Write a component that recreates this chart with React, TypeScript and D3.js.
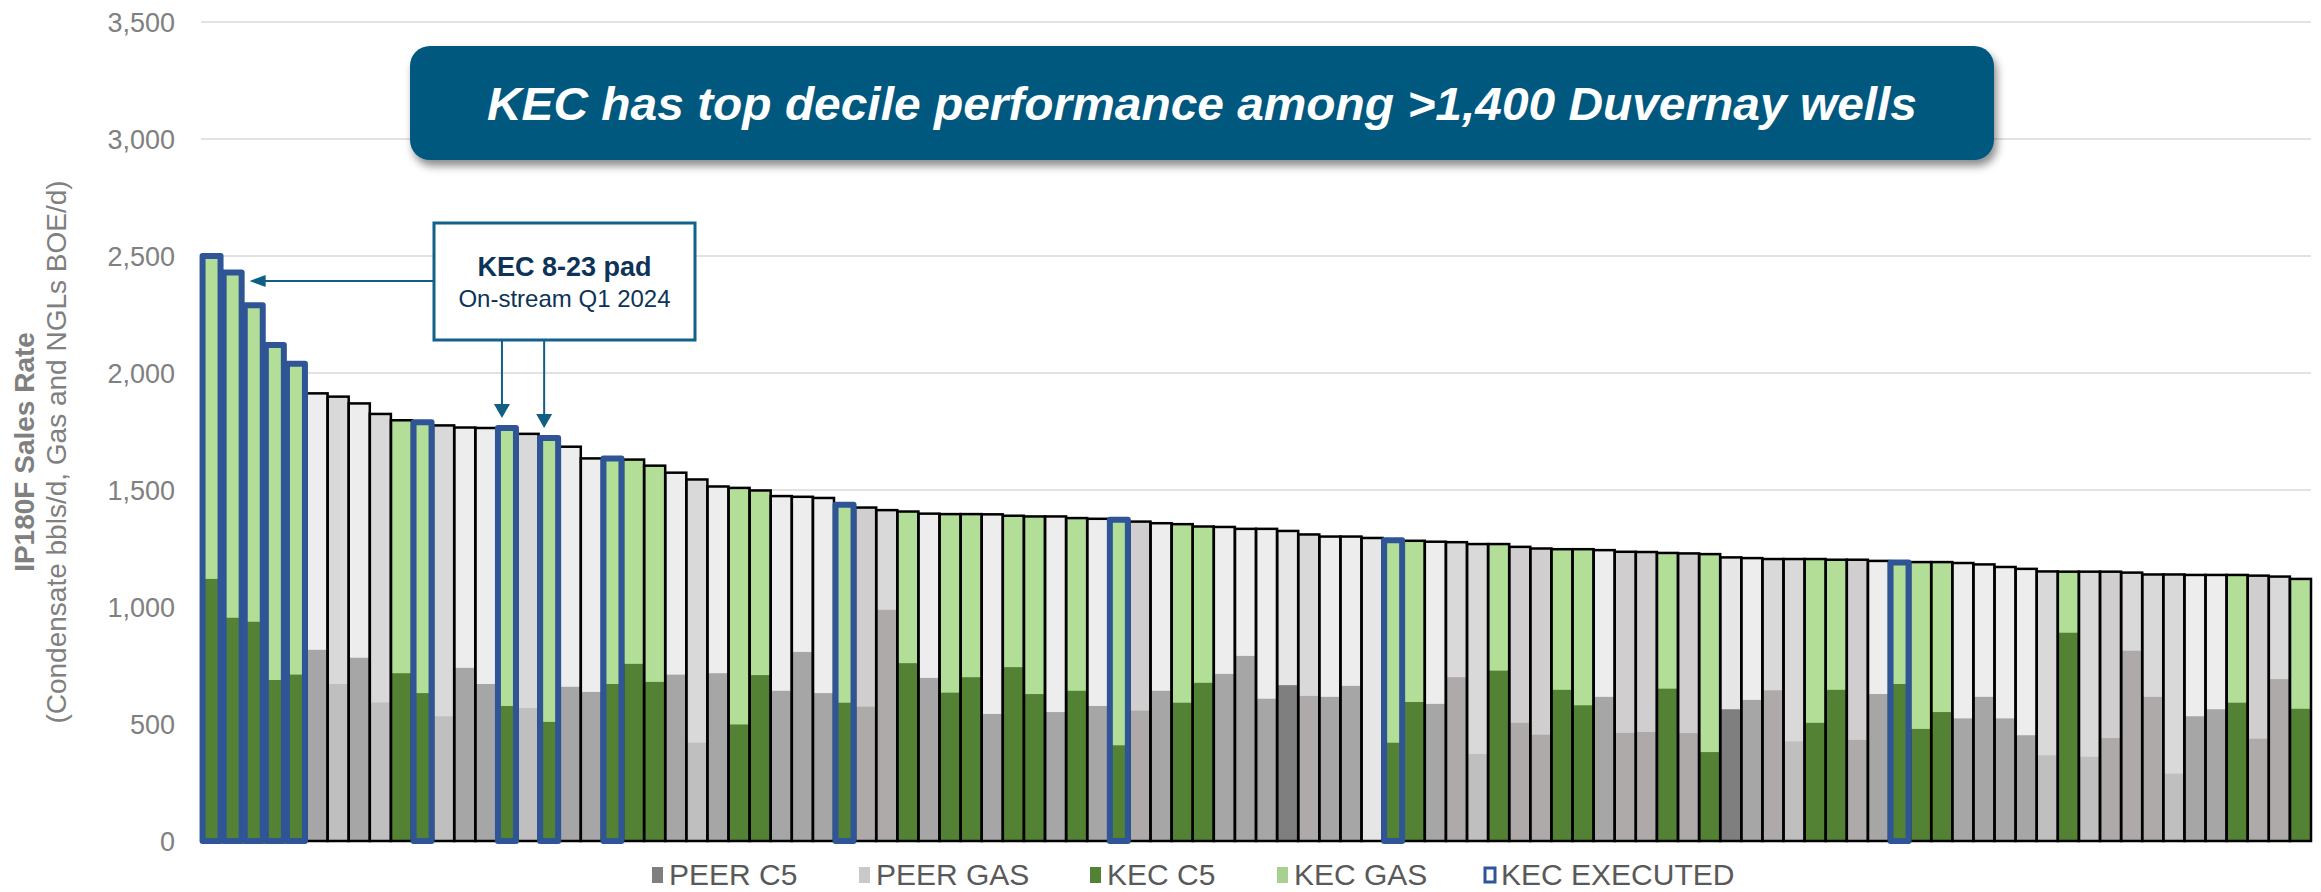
import React from 'react';
import * as d3 from 'd3';

// ---- data ----
const wellTotals = [
  2500, 2430, 2290, 2120, 2040, 1913, 1899, 1870, 1825, 1798,
  1790, 1776, 1767, 1765, 1765, 1740, 1722, 1685, 1635, 1635,
  1630, 1604, 1574, 1545, 1515, 1509, 1498, 1474, 1471, 1466,
  1437, 1425, 1414, 1408, 1399, 1397, 1397, 1396, 1390, 1387,
  1387, 1380, 1377, 1373, 1365, 1358, 1354, 1344, 1342, 1334,
  1334, 1325, 1310, 1301, 1301, 1295, 1285, 1283, 1279, 1277,
  1269, 1269, 1257, 1250, 1247, 1247, 1243, 1236, 1235, 1231,
  1229, 1226, 1212, 1209, 1205, 1205, 1205, 1202, 1202, 1197,
  1190, 1192, 1192, 1188, 1182, 1171, 1163, 1152, 1151, 1151,
  1151, 1147, 1139, 1139, 1137, 1137, 1137, 1134, 1130, 1120,
];

const wellC5 = [
  1120, 954, 937, 688, 711, 817, 671, 783, 592, 717,
  632, 533, 740, 671, 577, 568, 509, 659, 637, 671,
  757, 680, 711, 420, 717, 498, 709, 642, 808, 632,
  591, 574, 988, 760, 697, 634, 700, 543, 743, 628,
  551, 642, 577, 409, 557, 642, 591, 676, 714, 791,
  608, 666, 620, 616, 663, 0, 420, 594, 586, 700,
  372, 728, 505, 454, 646, 580, 616, 462, 466, 651,
  461, 380, 563, 603, 644, 426, 505, 646, 432, 628,
  671, 479, 551, 524, 616, 524, 452, 366, 890, 360,
  440, 813, 616, 288, 533, 563, 591, 437, 692, 565,
];

// K = KEC well; A..F = peer operator groups
const wellOperator = [
  'K', 'K', 'K', 'K', 'K', 'A', 'B', 'A', 'B', 'K',
  'K', 'B', 'A', 'A', 'K', 'B', 'K', 'A', 'A', 'K',
  'K', 'K', 'A', 'B', 'A', 'K', 'K', 'A', 'A', 'A',
  'K', 'C', 'F', 'K', 'A', 'K', 'K', 'A', 'K', 'K',
  'A', 'K', 'A', 'K', 'C', 'A', 'K', 'K', 'A', 'A',
  'A', 'D', 'F', 'A', 'A', 'E', 'K', 'K', 'A', 'F',
  'B', 'K', 'C', 'C', 'K', 'K', 'A', 'C', 'C', 'K',
  'C', 'K', 'D', 'A', 'F', 'B', 'K', 'K', 'C', 'A',
  'K', 'K', 'K', 'A', 'A', 'A', 'A', 'B', 'K', 'B',
  'C', 'F', 'F', 'B', 'A', 'A', 'K', 'C', 'F', 'K',
];

// 1-based positions of KEC executed wells
const executedWells = [1, 2, 3, 4, 5, 11, 15, 17, 20, 31, 44, 57, 81];

const yTicks = [0, 500, 1000, 1500, 2000, 2500, 3000, 3500];

const legendItems = ['PEER C5', 'PEER GAS', 'KEC C5', 'KEC GAS', 'KEC EXECUTED'];

const titleText = 'KEC has top decile performance among >1,400 Duvernay wells';
const calloutTitle = 'KEC 8-23 pad';
const calloutSub = 'On-stream Q1 2024';
const calloutTargets = [15, 17];
const calloutTopTarget = 2;

// ---- styles ----
const C5_COLORS: Record<string, string> = {
  K: '#548235', A: '#a6a6a6', B: '#bfbfbf', C: '#aeaaaa', F: '#aeaaaa', D: '#7f7f7f', E: '#e7e6e6',
};
const GAS_COLORS: Record<string, string> = {
  K: '#b3de97', A: '#ededed', B: '#d9d9d9', C: '#d0cece', F: '#d9d9d9', D: '#e7e6e6', E: '#e7e6e6',
};
const EXEC_BLUE = '#2f5597';
const ARROW = '#0f5f85';

export default function App() {
  const W = 2321;
  const H = 892;
  const x0 = 201;
  const x1 = 2311;
  const yBase = 841;
  const yTop = 22;

  const idx = wellTotals.map((_, i) => i);
  const x = d3.scaleBand<number>().domain(idx).range([x0, x1]).padding(0);
  const y = d3.scaleLinear().domain([0, 3500]).range([yBase, yTop]);
  const bw = x.bandwidth();
  const fmt = d3.format(',');
  const execSet = new Set(executedWells.map((d) => d - 1));

  const normal = idx.filter((i) => !execSet.has(i));
  const executed = idx.filter((i) => execSet.has(i));

  const legendX = [652, 859, 1090, 1277, 1484];
  const legendSw = [
    { fill: '#7f7f7f', stroke: 'none' },
    { fill: '#c9c9c9', stroke: 'none' },
    { fill: '#548235', stroke: 'none' },
    { fill: '#a9d18e', stroke: 'none' },
    { fill: '#ffffff', stroke: EXEC_BLUE },
  ];

  const cx = (i: number) => (x(i) as number) + bw / 2;
  const EW = 18;

  // callout box
  const bx = 434, by = 223, bwid = 261, bh = 117;
  const arrowY = 281;
  const tipX = cx(calloutTopTarget - 1) + EW / 2 + 8;

  return (
    <svg
      width={W}
      height={H}
      style={{ position: 'absolute', left: 0, top: 0, background: '#ffffff' }}
      fontFamily="Arial, 'Liberation Sans', Helvetica, sans-serif"
    >
      <defs>
        <filter id="shadow" x="-5%" y="-20%" width="110%" height="150%">
          <feDropShadow dx="3" dy="6" stdDeviation="4" floodColor="#000" floodOpacity="0.45" />
        </filter>
      </defs>

      {/* gridlines */}
      {yTicks.map((t) => (
        <line key={'g' + t} x1={x0} x2={x1} y1={y(t)} y2={y(t)} stroke="#d9d9d9" strokeWidth={1.5} />
      ))}

      {/* tick labels */}
      {yTicks.map((t) => (
        <text key={'t' + t} x={175} y={y(t)} dy="0.36em" textAnchor="end" fontSize={27} fill="#808080">
          {fmt(t)}
        </text>
      ))}

      {/* y-axis title */}
      <text transform="translate(34,452) rotate(-90)" textAnchor="middle" fontSize={28} fontWeight="bold" fill="#808080">
        IP180F Sales Rate
      </text>
      <text transform="translate(66,452) rotate(-90)" textAnchor="middle" fontSize={28} fill="#808080">
        (Condensate bbls/d, Gas and NGLs BOE/d)
      </text>

      {/* normal bars */}
      {normal.map((i) => {
        const op = wellOperator[i];
        const bx0 = x(i) as number;
        return (
          <g key={'b' + i}>
            <rect x={bx0} y={y(wellTotals[i])} width={bw} height={y(0) - y(wellTotals[i])} fill={GAS_COLORS[op]} />
            {wellC5[i] > 0 && (
              <rect x={bx0} y={y(wellC5[i])} width={bw} height={y(0) - y(wellC5[i])} fill={C5_COLORS[op]} />
            )}
          </g>
        );
      })}
      {normal.map((i) => {
        const bx0 = x(i) as number;
        return (
          <rect
            key={'o' + i}
            x={bx0}
            y={y(wellTotals[i])}
            width={bw}
            height={y(0) - y(wellTotals[i])}
            fill="none"
            stroke="#000"
            strokeWidth={2.5}
          />
        );
      })}

      {/* executed bars */}
      {executed.map((i) => {
        const op = wellOperator[i];
        const ex = cx(i) - EW / 2;
        return (
          <g key={'e' + i}>
            <rect x={ex} y={y(wellTotals[i])} width={EW} height={y(0) - y(wellTotals[i])} fill={GAS_COLORS[op]} />
            <rect x={ex} y={y(wellC5[i])} width={EW} height={y(0) - y(wellC5[i])} fill={C5_COLORS[op]} />
          </g>
        );
      })}
      {executed.map((i) => {
        const ex = cx(i) - EW / 2;
        return (
          <rect
            key={'eo' + i}
            x={ex}
            y={y(wellTotals[i])}
            width={EW}
            height={y(0) - y(wellTotals[i])}
            fill="none"
            stroke={EXEC_BLUE}
            strokeWidth={6}
            strokeLinejoin="round"
          />
        );
      })}

      {/* title banner */}
      <rect x={410} y={46} width={1584} height={114} rx={20} ry={20} fill="#03587f" filter="url(#shadow)" />
      <text
        x={1202}
        y={120}
        textAnchor="middle"
        fontSize={47}
        fontWeight="bold"
        fontStyle="italic"
        fill="#ffffff"
        textLength={1430}
        lengthAdjust="spacingAndGlyphs"
      >
        {titleText}
      </text>

      {/* callout */}
      <line x1={bx} x2={tipX + 10} y1={arrowY} y2={arrowY} stroke={ARROW} strokeWidth={2} />
      <path d={`M${tipX},${arrowY} L${tipX + 16},${arrowY - 6} L${tipX + 16},${arrowY + 6} Z`} fill={ARROW} />
      {calloutTargets.map((t, k) => {
        const ax = cx(t - 1) - 5;
        const tipY = y(wellTotals[t - 1]) - 10;
        return (
          <g key={'ca' + k}>
            <line x1={ax} x2={ax} y1={by + bh} y2={tipY - 12} stroke={ARROW} strokeWidth={2} />
            <path d={`M${ax - 8},${tipY - 14} L${ax + 8},${tipY - 14} L${ax},${tipY} Z`} fill={ARROW} />
          </g>
        );
      })}
      <rect x={bx} y={by} width={bwid} height={bh} fill="#ffffff" stroke="#11618a" strokeWidth={3} />
      <text x={bx + bwid / 2} y={276} textAnchor="middle" fontSize={27} fontWeight="bold" fill="#0d3358">
        {calloutTitle}
      </text>
      <text x={bx + bwid / 2} y={307} textAnchor="middle" fontSize={24} fill="#0d3358">
        {calloutSub}
      </text>

      {/* legend */}
      {legendItems.map((name, k) => (
        <g key={'l' + k}>
          <rect
            x={legendX[k] + (legendSw[k].stroke === 'none' ? 0 : 1)}
            y={legendSw[k].stroke === 'none' ? 867 : 868}
            width={legendSw[k].stroke === 'none' ? 11 : 10}
            height={legendSw[k].stroke === 'none' ? 16 : 14}
            fill={legendSw[k].fill}
            stroke={legendSw[k].stroke}
            strokeWidth={legendSw[k].stroke === 'none' ? 0 : 3}
          />
          <text x={legendX[k] + 17} y={885} fontSize={30} fill="#595959">
            {name}
          </text>
        </g>
      ))}
    </svg>
  );
}
